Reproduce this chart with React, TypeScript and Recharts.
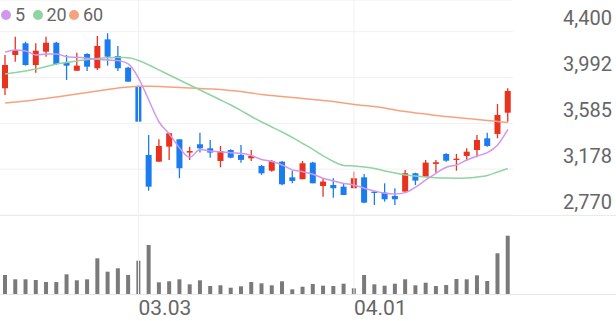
import React from "react";
import {
  Bar,
  BarChart,
  CartesianGrid,
  ComposedChart,
  Line,
  ReferenceLine,
  XAxis,
  YAxis,
} from "recharts";

const dates = [
  "02.06", "02.09", "02.10", "02.11", "02.12", "02.13", "02.19", "02.20", "02.23", "02.24",
  "02.25", "02.26", "02.27", "03.03", "03.04", "03.05", "03.06", "03.09", "03.10", "03.11",
  "03.12", "03.13", "03.16", "03.17", "03.18", "03.19", "03.20", "03.23", "03.24", "03.25",
  "03.26", "03.27", "03.30", "03.31", "04.01", "04.02", "04.03", "04.06", "04.07", "04.08",
  "04.09", "04.10", "04.13", "04.14", "04.15", "04.16", "04.17", "04.20", "04.21", "04.22",
];

const open = [
  3897, 4193, 4297, 4104, 4222, 4302, 4125, 4053, 4202, 4075,
  4332, 4184, 4080, 3917, 3304, 3244, 3378, 3443, 3325, 3399,
  3363, 3250, 3348, 3304, 3274, 3206, 3164, 3244, 3105, 3088,
  3236, 3028, 3037, 3022, 3008, 3105, 2978, 2969, 2939, 2978,
  3141, 3111, 3224, 3313, 3259, 3295, 3348, 3452, 3491, 3680,
];
const high = [
  4193, 4356, 4311, 4297, 4356, 4311, 4193, 4213, 4208, 4362,
  4386, 4273, 4089, 3926, 3482, 3443, 3502, 3443, 3378, 3502,
  3437, 3384, 3354, 3393, 3348, 3215, 3260, 3250, 3164, 3250,
  3244, 3097, 3097, 3046, 3155, 3135, 2978, 3052, 3008, 3170,
  3146, 3260, 3260, 3319, 3313, 3363, 3482, 3502, 3757, 3897,
];
const low = [
  3837, 4133, 4098, 4036, 4178, 4104, 3971, 4053, 4051, 4060,
  4098, 4051, 3956, 3600, 2986, 3244, 3260, 3097, 3260, 3325,
  3280, 3194, 3275, 3235, 3250, 3126, 3155, 3034, 3052, 3088,
  3052, 2933, 2924, 2948, 3008, 2874, 2859, 2889, 2859, 2978,
  3037, 3111, 3146, 3244, 3164, 3253, 3283, 3378, 3452, 3600,
];
const close = [
  4104, 4237, 4104, 4231, 4302, 4113, 4098, 4098, 4089, 4273,
  4178, 4075, 3956, 3600, 3022, 3384, 3497, 3186, 3339, 3363,
  3325, 3339, 3280, 3260, 3295, 3141, 3250, 3043, 3073, 3230,
  3052, 3067, 3008, 2948, 3097, 2880, 2966, 2910, 2910, 3141,
  3076, 3236, 3239, 3253, 3271, 3333, 3437, 3384, 3660, 3873,
];
const volume = [
  190000, 147000, 147000, 140000, 120000, 120000, 197000, 137000, 147000, 357000,
  223000, 257000, 190000, 333000, 490000, 117000, 127000, 147000, 97000, 137000,
  80000, 87000, 63000, 77000, 120000, 107000, 87000, 127000, 47000, 73000,
  100000, 83000, 80000, 103000, 57000, 190000, 97000, 83000, 103000, 147000,
  87000, 113000, 80000, 90000, 150000, 147000, 187000, 130000, 407000, 583000,
];

const ma5 = [
  4217, 4237, 4228, 4193, 4202, 4202, 4178, 4172, 4164, 4155,
  4148, 4144, 4113, 3988, 3793, 3597, 3491, 3366, 3283, 3353,
  3339, 3333, 3324, 3319, 3299, 3264, 3246, 3215, 3171, 3155,
  3132, 3097, 3073, 3051, 3037, 3008, 2984, 2963, 2957, 2969,
  3017, 3082, 3141, 3195, 3215, 3259, 3295, 3324, 3393, 3532,
];
const ma20 = [
  4024, 4037, 4051, 4068, 4091, 4113, 4126, 4140, 4153, 4162,
  4168, 4172, 4168, 4144, 4104, 4060, 4015, 3971, 3926, 3882,
  3837, 3793, 3748, 3699, 3646, 3597, 3553, 3508, 3459, 3406,
  3353, 3295, 3246, 3211, 3206, 3197, 3184, 3162, 3144, 3126,
  3117, 3108, 3101, 3098, 3097, 3099, 3108, 3122, 3153, 3184,
];
const ma60 = [
  3766, 3775, 3784, 3795, 3806, 3820, 3833, 3846, 3859, 3873,
  3886, 3899, 3908, 3915, 3915, 3913, 3908, 3904, 3899, 3895,
  3891, 3886, 3877, 3868, 3855, 3841, 3833, 3824, 3815, 3806,
  3797, 3788, 3779, 3766, 3753, 3744, 3735, 3722, 3704, 3691,
  3677, 3668, 3655, 3646, 3637, 3628, 3619, 3611, 3602, 3593,
];

const priceTicks = [2770, 3178, 3585, 3992, 4400];
const dateTicks = ["03.03", "04.01"];

const UP = "#e8321d";
const DOWN = "#1b7cf0";
const MA5 = "#d197ee";
const MA20 = "#90d4a1";
const MA60 = "#f6a27f";
const GRID = "#f0f0f0";
const TEXT = "#666";
const FONT = "Roboto, sans-serif";

const rows = dates.map((date, i) => ({
  date,
  open: open[i],
  high: high[i],
  low: low[i],
  close: close[i],
  range: [low[i], high[i]],
  volume: volume[i],
  ma5: ma5[i],
  ma20: ma20[i],
  ma60: ma60[i],
}));

function Candle(props: any) {
  const { x, y, width, height, payload } = props;
  if (x == null || y == null) return null;
  const top = Math.min(y, y + height);
  const h = Math.abs(height);
  const span = payload.high - payload.low || 1;
  const py = (v: number) => top + ((payload.high - v) / span) * h;
  const color = payload.close >= payload.open ? UP : DOWN;
  const cx = x + width / 2;
  const bTop = py(Math.max(payload.open, payload.close));
  const bBottom = py(Math.min(payload.open, payload.close));
  return (
    <g>
      <line x1={cx} x2={cx} y1={top} y2={top + h} stroke={color} strokeWidth={1.3} />
      <rect x={x} y={bTop} width={width} height={Math.max(bBottom - bTop, 1.2)} fill={color} />
    </g>
  );
}

function PriceTick(props: any) {
  const { y, payload } = props;
  return (
    <text
      x={612}
      y={y - 13.4}
      textAnchor="end"
      dominantBaseline="central"
      fill={TEXT}
      fontSize={20}
      fontFamily={FONT}
    >
      {payload.value.toLocaleString("en-US")}
    </text>
  );
}

function DateTick(props: any) {
  const { x, y, payload } = props;
  return (
    <text x={x} y={y + 14} dominantBaseline="central" fill={TEXT} fontSize={21} fontFamily={FONT}>
      {payload.value}
    </text>
  );
}

const legend = [
  { label: "5", color: MA5, dot: 6, text: 15 },
  { label: "20", color: MA20, dot: 37.7, text: 46.5 },
  { label: "60", color: MA60, dot: 74, text: 83 },
];

export default function App() {
  return (
    <div
      style={{
        position: "absolute",
        left: 0,
        top: 0,
        width: 616,
        height: 321,
        background: "#fff",
        fontFamily: FONT,
        overflow: "hidden",
      }}
    >
      <div style={{ position: "absolute", left: 0, top: 0 }}>
        <ComposedChart width={616} height={216} data={rows} margin={{ top: 0, right: 0, left: 0, bottom: 1 }}>
          <CartesianGrid vertical={false} stroke={GRID} />
          <XAxis dataKey="date" hide />
          <YAxis
            orientation="right"
            domain={[2770, 4682]}
            ticks={priceTicks}
            interval={0}
            width={103}
            axisLine={false}
            tickLine={false}
            tick={<PriceTick />}
            allowDataOverflow
          />
          <ReferenceLine x="03.03" stroke={GRID} />
          <ReferenceLine x="04.01" stroke={GRID} />
          <Line type="monotone" dataKey="ma60" stroke={MA60} strokeWidth={1.5} dot={false} activeDot={false} isAnimationActive={false} />
          <Line type="monotone" dataKey="ma20" stroke={MA20} strokeWidth={1.5} dot={false} activeDot={false} isAnimationActive={false} />
          <Bar dataKey="range" barSize={6} shape={<Candle />} isAnimationActive={false} />
          <Line type="monotone" dataKey="ma5" stroke={MA5} strokeWidth={1.5} dot={false} activeDot={false} isAnimationActive={false} />
        </ComposedChart>
      </div>
      <div style={{ position: "absolute", left: 0, top: 215 }}>
        <BarChart width={616} height={106} data={rows} margin={{ top: 0, right: 103, left: 0, bottom: 0 }}>
          <XAxis
            dataKey="date"
            ticks={dateTicks}
            interval={0}
            height={27}
            axisLine={false}
            tickLine={false}
            tickSize={0}
            tickMargin={0}
            tick={<DateTick />}
          />
          <YAxis hide domain={[0, 790000]} />
          <ReferenceLine x="03.03" stroke={GRID} />
          <ReferenceLine x="04.01" stroke={GRID} />
          <Bar dataKey="volume" barSize={4} fill="#7a7a7a" isAnimationActive={false} />
        </BarChart>
      </div>
      <div style={{ position: "absolute", left: 0, top: 215, width: 616, height: 1, background: "#ebebeb" }} />
      <div style={{ position: "absolute", left: 0, top: 294, width: 616, height: 1, background: "#e6e6e6" }} />
      {legend.map((l) => (
        <React.Fragment key={l.label}>
          <span
            style={{
              position: "absolute",
              left: l.dot - 5,
              top: 10,
              width: 10,
              height: 10,
              borderRadius: 5,
              background: l.color,
            }}
          />
          <span
            style={{
              position: "absolute",
              left: l.text,
              top: 4,
              fontSize: 18,
              lineHeight: "22px",
              color: TEXT,
            }}
          >
            {l.label}
          </span>
        </React.Fragment>
      ))}
    </div>
  );
}
